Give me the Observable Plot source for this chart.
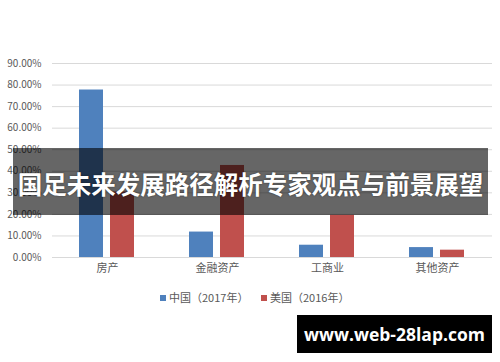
<!DOCTYPE html>
<html>
<head>
<meta charset="utf-8">
<script src="https://cdn.jsdelivr.net/npm/d3@7"></script>
<script src="https://cdn.jsdelivr.net/npm/@observablehq/plot@0.6"></script>
<style>
  html, body { margin: 0; padding: 0; background: #fff; }
  #wrap { position: relative; width: 500px; height: 362px; overflow: hidden; font-family: "Noto Sans CJK SC", "Noto Sans", sans-serif; }
  #chart { position: absolute; left: 0; top: 0; }
  #legend { position: absolute; left: 0; top: 289px; width: 500px; height: 16px; font-size: 11px; color: #595959; }
  #legend .item { position: absolute; top: 0; line-height: 16px; white-space: nowrap; }
  #legend .sw { display: inline-block; width: 6px; height: 6px; margin-right: 3px; vertical-align: 1px; }
  #banner { position: absolute; left: 13px; top: 148px; width: 475px; height: 67px; background: rgba(0,0,0,0.6); }
  #banner span { position: absolute; left: 0; top: 16px; width: 475px; text-align: center; color: #fff; font-weight: bold; font-size: 24.5px; line-height: 40px; letter-spacing: 0px; white-space: nowrap; text-shadow: 0 0 2px rgba(0,0,0,0.5); }
  #mark { position: absolute; left: 297px; top: 315px; width: 195px; height: 38px; background: #000; }
  #mark span { position: absolute; left: 0; top: 0; width: 195px; text-align: center; line-height: 38px; color: #fff; font-weight: bold; font-size: 17.5px; font-family: "Open Sans", "DejaVu Sans", sans-serif; white-space: nowrap; }
</style>
</head>
<body>
<div id="wrap">
  <div id="chart"></div>
  <div id="legend"></div>
  <div id="banner"><span id="bannerText"></span></div>
  <div id="mark"><span id="markText"></span></div>
</div>
<script>
const categories = ["房产", "金融资产", "工商业", "其他资产"];
const seriesNames = ["中国（2017年）", "美国（2016年）"];
const chinaValues = [77.7, 11.8, 5.7, 4.6];
const usValues = [30.4, 42.7, 19.6, 3.4];
const yTicks = [0, 10, 20, 30, 40, 50, 60, 70, 80, 90];
const colors = ["#4f81bd", "#c0504d"];
const titleText = "国足未来发展路径解析专家观点与前景展望";
const watermarkText = "www.web-28lap.com";

const data = [];
categories.forEach((c, i) => {
  data.push({category: c, series: seriesNames[0], value: chinaValues[i]});
  data.push({category: c, series: seriesNames[1], value: usValues[i]});
});

const chart = Plot.plot({
  width: 500,
  height: 285,
  marginTop: 63,
  marginBottom: 28,
  marginLeft: 50,
  marginRight: 7,
  style: {fontFamily: "'Noto Sans CJK SC', 'Noto Sans', sans-serif", fontSize: "10px", color: "#595959", background: "#fff"},
  fx: {domain: categories, padding: 0, label: null, axis: "bottom", tickSize: 0, tickPadding: 7},
  x: {domain: seriesNames, paddingInner: 0.222, paddingOuter: 0.869, axis: null},
  y: {domain: [0, 90], ticks: yTicks, label: null, axis: null},
  color: {domain: seriesNames, range: colors},
  marks: [
    Plot.gridY(yTicks, {stroke: "#d9d9d9", strokeOpacity: 1, strokeWidth: 1}),
    Plot.axisY(yTicks, {tickSize: 0, tickPadding: 11, label: null, tickFormat: d => d.toFixed(2) + "%", fontSize: 10, fill: "#595959", facetAnchor: "left"}),
    Plot.barY(data, {fx: "category", x: "series", y: "value", fill: "series"}),
    Plot.ruleY([0], {stroke: "#d9d9d9", strokeWidth: 1})
  ]
});
chart.querySelectorAll("g[aria-label='fx-axis tick label'] text, g[aria-label='fx-axis tick label']").forEach(el => {
  el.setAttribute("font-size", "11");
});
document.getElementById("chart").appendChild(chart);

const legend = document.getElementById("legend");
const legendX = [160, 261];
seriesNames.forEach((s, i) => {
  const item = document.createElement("span");
  item.className = "item";
  item.style.left = legendX[i] + "px";
  const sw = document.createElement("span");
  sw.className = "sw";
  sw.style.background = colors[i];
  item.appendChild(sw);
  item.appendChild(document.createTextNode(s));
  legend.appendChild(item);
});

document.getElementById("bannerText").textContent = titleText;
document.getElementById("markText").textContent = watermarkText;
</script>
</body>
</html>
